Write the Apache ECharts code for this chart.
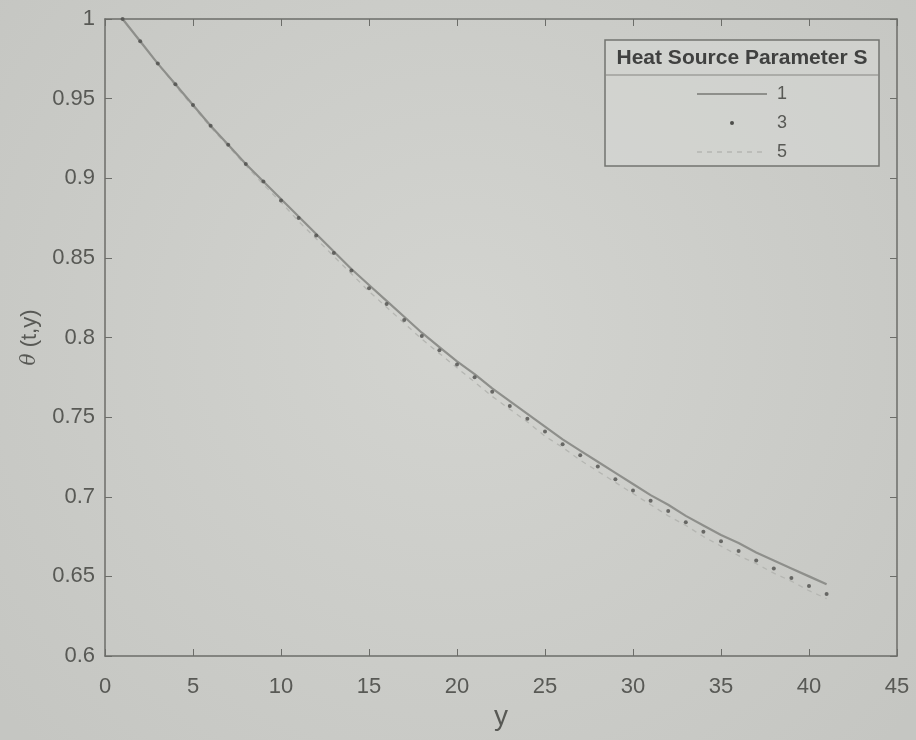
<!DOCTYPE html>
<html>
<head>
<meta charset="utf-8">
<script src="https://cdn.jsdelivr.net/npm/echarts@6/dist/echarts.min.js"></script>
<style>
html,body{margin:0;padding:0;background:#cbccc8;}
#chart{width:916px;height:740px;}
</style>
</head>
<body>
<div id="chart"></div>
<script>
// x positions (y coordinate in the plot)
const xValues = [1,2,3,4,5,6,7,8,9,10,11,12,13,14,15,16,17,18,19,20,21,22,23,24,25,26,27,28,29,30,31,32,33,34,35,36,37,38,39,40,41];
// Heat source parameter S = 1 (solid)
const s1 = [1.000,0.986,0.972,0.959,0.946,0.933,0.921,0.909,0.898,0.887,0.876,0.865,0.854,0.843,0.833,0.823,0.813,0.803,0.794,0.785,0.777,0.768,0.760,0.752,0.744,0.736,0.729,0.722,0.715,0.708,0.701,0.695,0.688,0.682,0.676,0.671,0.665,0.660,0.655,0.650,0.645];
// S = 3 (dots)
const s3 = [1.000,0.986,0.972,0.959,0.946,0.933,0.921,0.909,0.898,0.886,0.875,0.864,0.853,0.842,0.831,0.821,0.811,0.801,0.792,0.783,0.775,0.766,0.757,0.749,0.741,0.733,0.726,0.719,0.711,0.704,0.6975,0.691,0.684,0.678,0.672,0.666,0.660,0.655,0.649,0.644,0.639];
// S = 5 (dashed)
const s5 = [1.000,0.986,0.972,0.958,0.945,0.932,0.920,0.908,0.896,0.885,0.873,0.862,0.851,0.840,0.829,0.819,0.809,0.799,0.790,0.781,0.772,0.763,0.755,0.747,0.738,0.731,0.723,0.716,0.709,0.702,0.695,0.688,0.682,0.675,0.669,0.663,0.658,0.652,0.647,0.641,0.636];
const seriesNames = ['1','3','5'];
const legendTitle = 'Heat Source Parameter S';
const xTicks = [0,5,10,15,20,25,30,35,40,45];
const yTicks = [0.6,0.65,0.7,0.75,0.8,0.85,0.9,0.95,1];

const pair = arr => xValues.map((x,i)=>[x,arr[i]]);

const axisCol = '#6c6d69';
const textCol = '#585955';
const font = 'Liberation Sans, Arial, sans-serif';

const chart = echarts.init(document.getElementById('chart'));
const lx = 605, ly = 40, lw = 274, lh = 126;
const sampleX1 = 697, sampleX2 = 767, labelX = 777;
const rowY = [94, 123, 152];

chart.setOption({
  backgroundColor: {
    type: 'radial', x: 0.5, y: 0.45, r: 0.8,
    colorStops: [{offset:0,color:'#d3d4d0'},{offset:1,color:'#c5c6c2'}]
  },
  animation: false,
  grid: {left:105, top:19, right:19, bottom:84},
  xAxis: [{
    type:'value', min:0, max:45, interval:5,
    name:'y', nameLocation:'middle', nameGap:42,
    nameTextStyle:{fontFamily:font, fontSize:28, color:textCol},
    axisLine:{show:true, onZero:false, lineStyle:{color:axisCol, width:1.5}},
    axisTick:{show:true, inside:true, length:7, lineStyle:{color:axisCol}},
    axisLabel:{fontFamily:font, fontSize:22, color:textCol, margin:20,
      formatter: v => xTicks.includes(v) ? String(v) : ''},
    splitLine:{show:false}
  },{
    type:'value', min:0, max:45, interval:5, position:'top',
    axisLine:{show:true, onZero:false, lineStyle:{color:axisCol, width:1.5}},
    axisTick:{show:true, inside:true, length:7, lineStyle:{color:axisCol}},
    axisLabel:{show:false}, splitLine:{show:false}
  }],
  yAxis: [{
    type:'value', min:0.6, max:1, interval:0.05,
    name:'{i|θ} (t,y)', nameLocation:'middle', nameGap:56,
    nameTextStyle:{fontFamily:font, fontSize:22, color:textCol,
      rich:{i:{fontFamily:'DejaVu Serif, serif', fontStyle:'italic', fontSize:20, color:textCol}}},
    axisLine:{show:true, onZero:false, lineStyle:{color:axisCol, width:1.5}},
    axisTick:{show:true, inside:true, length:7, lineStyle:{color:axisCol}},
    axisLabel:{fontFamily:font, fontSize:22, color:textCol, margin:10,
      formatter: v => { const t = yTicks.find(k=>Math.abs(k-v)<1e-9); return t===undefined ? '' : String(t); }},
    splitLine:{show:false}
  },{
    type:'value', min:0.6, max:1, interval:0.05, position:'right',
    axisLine:{show:true, onZero:false, lineStyle:{color:axisCol, width:1.5}},
    axisTick:{show:true, inside:true, length:7, lineStyle:{color:axisCol}},
    axisLabel:{show:false}, splitLine:{show:false}
  }],
  series: [
    {name:seriesNames[0], type:'line', data:pair(s1), showSymbol:false, symbol:'none',
      lineStyle:{color:'#8e8f8b', width:2.2}, z:3},
    {name:seriesNames[1], type:'scatter', data:pair(s3), symbol:'circle', symbolSize:4,
      itemStyle:{color:'#4d4e4b'}, z:4},
    {name:seriesNames[2], type:'line', data:pair(s5), showSymbol:false, symbol:'none',
      lineStyle:{color:'#b5b6b2', width:1.3, type:[5,5]}, z:2}
  ],
  graphic: [
    {type:'rect', shape:{x:lx, y:ly, width:lw, height:lh},
      style:{fill:'rgba(214,215,211,0.6)', stroke:'#737470', lineWidth:1.5}, z:10},
    {type:'line', shape:{x1:lx, y1:75, x2:lx+lw, y2:75},
      style:{stroke:'#858682', lineWidth:1.2}, z:10},
    {type:'text', x:lx+lw/2, y:58, z:11,
      style:{text:legendTitle, fontFamily:font, fontWeight:'bold', fontSize:21,
        fill:'#404140', align:'center', verticalAlign:'middle'}},
    {type:'line', shape:{x1:sampleX1, y1:rowY[0], x2:sampleX2, y2:rowY[0]},
      style:{stroke:'#8e8f8b', lineWidth:2.2}, z:11},
    {type:'circle', shape:{cx:(sampleX1+sampleX2)/2, cy:rowY[1], r:2},
      style:{fill:'#4d4e4b'}, z:11},
    {type:'line', shape:{x1:sampleX1, y1:rowY[2], x2:sampleX2, y2:rowY[2]},
      style:{stroke:'#b5b6b2', lineWidth:1.3, lineDash:[5,5]}, z:11},
    {type:'text', x:labelX, y:rowY[0], z:11,
      style:{text:seriesNames[0], fontFamily:font, fontSize:18, fill:textCol, verticalAlign:'middle'}},
    {type:'text', x:labelX, y:rowY[1], z:11,
      style:{text:seriesNames[1], fontFamily:font, fontSize:18, fill:textCol, verticalAlign:'middle'}},
    {type:'text', x:labelX, y:rowY[2], z:11,
      style:{text:seriesNames[2], fontFamily:font, fontSize:18, fill:textCol, verticalAlign:'middle'}}
  ]
});
</script>
</body>
</html>
